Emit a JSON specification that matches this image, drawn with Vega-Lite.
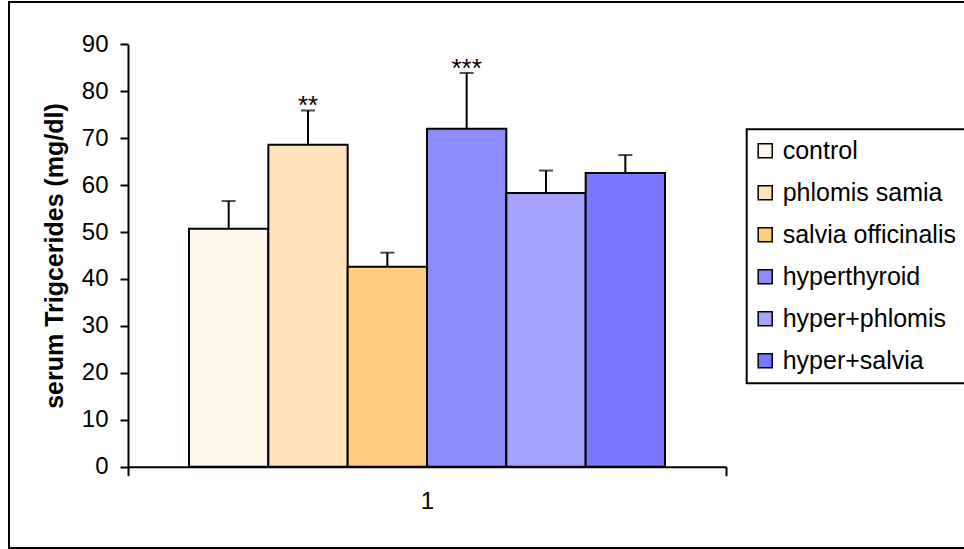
{
  "$schema": "https://vega.github.io/schema/vega-lite/v6.json",
  "width": 958,
  "height": 546,
  "autosize": {"type": "none"},
  "padding": {"left": 9, "top": 2, "right": -3, "bottom": 1},
  "background": "white",
  "config": {
    "view": {"stroke": "black", "strokeWidth": 2},
    "font": "Liberation Sans",
    "legend": {"strokeWidth": 2}
  },
  "data": {
    "values": [
      {"cat": "1", "group": "control", "value": 50.7, "err": 56.6, "sig": ""},
      {"cat": "1", "group": "phlomis samia", "value": 68.6, "err": 75.9, "sig": "**"},
      {"cat": "1", "group": "salvia officinalis", "value": 42.6, "err": 45.6, "sig": ""},
      {"cat": "1", "group": "hyperthyroid", "value": 72.0, "err": 83.9, "sig": "***"},
      {"cat": "1", "group": "hyper+phlomis", "value": 58.3, "err": 63.1, "sig": ""},
      {"cat": "1", "group": "hyper+salvia", "value": 62.6, "err": 66.4, "sig": ""}
    ]
  },
  "encoding": {
    "x": {
      "field": "cat",
      "type": "nominal",
      "scale": {"range": [119, 717], "paddingInner": 0, "paddingOuter": 0},
      "axis": {
        "orient": "bottom",
        "offset": -81.3,
        "tickBand": "extent",
        "title": null,
        "labelAngle": 0,
        "domainColor": "black",
        "domainWidth": 2,
        "tickColor": "black",
        "tickWidth": 2,
        "tickSize": 9,
        "labelFontSize": 24,
        "labelColor": "black",
        "labelFont": "Liberation Sans",
        "labelPadding": 14
      }
    },
    "xOffset": {
      "field": "group",
      "type": "nominal",
      "sort": ["control", "phlomis samia", "salvia officinalis", "hyperthyroid", "hyper+phlomis", "hyper+salvia"],
      "scale": {"paddingInner": 0, "paddingOuter": 0.769}
    }
  },
  "layer": [
    {
      "mark": {"type": "bar", "stroke": "black", "strokeWidth": 2},
      "encoding": {
        "y": {
          "field": "value",
          "type": "quantitative",
          "scale": {"domain": [0, 90], "range": [464.7, 42.3], "nice": false},
          "axis": {
            "offset": -119,
            "values": [0, 10, 20, 30, 40, 50, 60, 70, 80, 90],
            "grid": false,
            "domainColor": "black",
            "domainWidth": 2,
            "tickColor": "black",
            "tickWidth": 2,
            "tickSize": 8,
            "labelFontSize": 24,
            "labelColor": "black",
            "labelFont": "Liberation Sans",
            "labelPadding": 12,
            "title": "serum Trigcerides (mg/dl)",
            "titleFont": "Liberation Sans",
            "titleFontSize": 25,
            "titleFontWeight": "bold",
            "titleColor": "black",
            "titlePadding": 14
          }
        },
        "color": {
          "field": "group",
          "type": "nominal",
          "scale": {
            "domain": ["control", "phlomis samia", "salvia officinalis", "hyperthyroid", "hyper+phlomis", "hyper+salvia"],
            "range": ["#FFF7EA", "#FFE3BA", "#FFCC80", "#8C8CFF", "#A4A4FF", "#7777FF"]
          },
          "legend": {
            "orient": "none",
            "legendX": 737.7,
            "legendY": 127.3,
            "title": null,
            "strokeColor": "black",
            "fillColor": "white",
            "padding": 9,
            "rowPadding": 16,
            "labelFontSize": 25,
            "labelFont": "Liberation Sans",
            "labelColor": "black",
            "labelOffset": 5,
            "labelLimit": 400,
            "symbolOffset": -3,
            "symbolType": "square",
            "symbolSize": 196,
            "symbolStrokeColor": "black",
            "symbolStrokeWidth": 1.5,
            "symbolOpacity": 1
          }
        }
      }
    },
    {
      "mark": {"type": "rule", "color": "black", "strokeWidth": 2},
      "encoding": {
        "y": {"field": "value", "type": "quantitative"},
        "y2": {"field": "err"}
      }
    },
    {
      "mark": {"type": "tick", "color": "black", "thickness": 2, "size": 14, "orient": "horizontal"},
      "encoding": {
        "y": {"field": "err", "type": "quantitative"}
      }
    },
    {
      "mark": {"type": "text", "fontSize": 26, "font": "Liberation Sans", "color": "black", "baseline": "alphabetic", "dy": 4},
      "encoding": {
        "y": {"field": "err", "type": "quantitative"},
        "text": {"field": "sig"}
      }
    }
  ]
}
